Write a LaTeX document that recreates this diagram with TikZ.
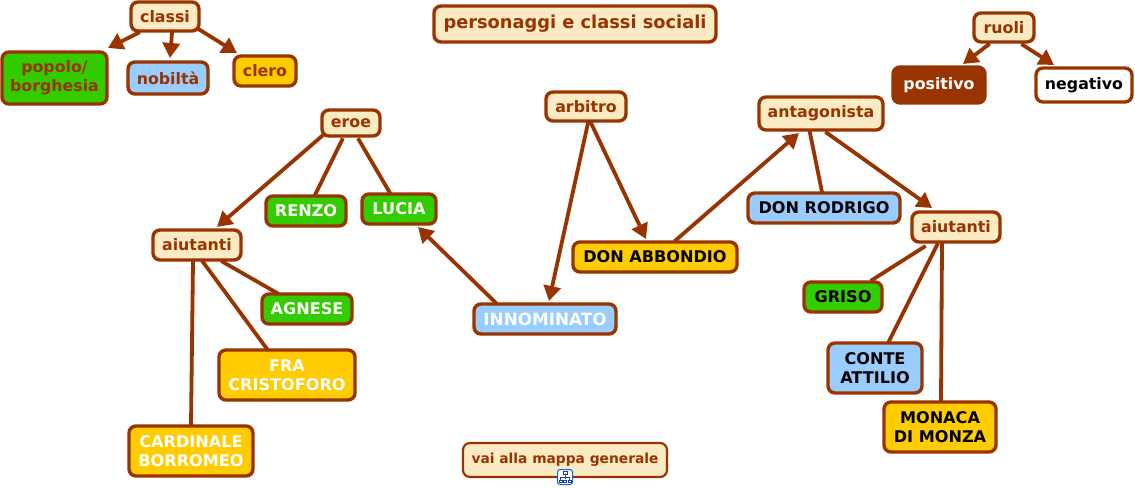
\documentclass[tikz,border=0pt]{standalone}
\usepackage{fontspec}
\setmainfont{DejaVu Sans}
\usetikzlibrary{arrows.meta}
\definecolor{brn}{HTML}{993300}
\definecolor{crm}{HTML}{FBEBC4}
\definecolor{grn}{HTML}{33CC00}
\definecolor{blu}{HTML}{99CCFF}
\definecolor{ylw}{HTML}{FFCC00}
\definecolor{icn}{HTML}{1F3F9F}
\tikzset{
 bx/.style={draw=brn,line width=3.4pt,rounded corners=7pt,align=center,inner sep=0pt,font=\bfseries\fontsize{15.8}{19.3}\selectfont},
 cream/.style={bx,fill=crm,text=brn},
 green/.style={bx,fill=grn,text=white},
 blue/.style={bx,fill=blu,text=black},
 yellow/.style={bx,fill=ylw,text=black},
 up/.style={font=\bfseries\fontsize{16.1}{19.3}\selectfont},
 link/.style={draw=brn,line width=3.8pt,shorten <=-2pt,shorten >=-1.5pt},
 arr/.style={link,shorten >=0pt,-{Triangle[length=15pt,width=17pt]}},
}
\newcommand{\bxn}[7]{\node[#1,minimum width=#4pt-2pt,minimum height=#5pt-2pt,#7] (#2) at (#3) {#6};}
\newcommand{\lnk}[5]{\draw[#1] ([shift={(#3)}]#2.center) -- ([shift={(#5)}]#4.center);}
\begin{document}
\begin{tikzpicture}[x=1pt,y=-1pt]
\useasboundingbox (0,0) rectangle (1135,488);
\bxn{cream}{classi}{165,16.5}{70}{31}{classi}{}
\bxn{green}{popolo}{54.5,78}{107}{54}{popolo/\\borghesia}{text=brn}
\bxn{blue}{nobilta}{168,78}{82}{34}{nobiltà}{text=brn}
\bxn{yellow}{clero}{265,71}{64}{32}{clero}{text=brn}
\bxn{cream}{title}{575,24}{284}{38}{personaggi e classi sociali}{font=\bfseries\fontsize{17.8}{21}\selectfont}
\bxn{cream}{ruoli}{1004,27.5}{62}{31}{ruoli}{}
\bxn{bx}{positivo}{939,85}{94}{38}{positivo}{fill=brn,text=white}
\bxn{bx}{negativo}{1084,85}{98}{36}{negativo}{fill=white,text=black}
\bxn{cream}{eroe}{351,123}{60}{28}{eroe}{}
\bxn{cream}{arbitro}{586,106.5}{82}{31}{arbitro}{}
\bxn{cream}{antagonista}{821,113.5}{126}{35}{antagonista}{}
\bxn{green}{renzo}{306,211}{82}{32}{RENZO}{up}
\bxn{green}{lucia}{399,209}{76}{32}{LUCIA}{up}
\bxn{cream}{aiutl}{197,245}{90}{32}{aiutanti}{}
\bxn{green}{agnese}{307,309}{92}{32}{AGNESE}{up}
\bxn{yellow}{fra}{287,375}{138}{52}{FRA\\CRISTOFORO}{text=white,up}
\bxn{yellow}{card}{191,451}{126}{52}{CARDINALE\\BORROMEO}{text=white,up}
\bxn{yellow}{abb}{655,257}{166}{32}{DON ABBONDIO}{up}
\bxn{blue}{inn}{545,319}{144}{32}{INNOMINATO}{text=white,font=\bfseries\fontsize{16.8}{19.3}\selectfont}
\bxn{blue}{rod}{824,208}{154}{32}{DON RODRIGO}{up}
\bxn{cream}{aiutr}{956,227}{90}{32}{aiutanti}{}
\bxn{green}{griso}{843,297}{80}{32}{GRISO}{text=black,up}
\bxn{blue}{conte}{875,368}{96}{52}{CONTE\\ATTILIO}{up}
\bxn{yellow}{monaca}{940,427}{114}{52}{MONACA\\DI MONZA}{up}
\node[bx,fill=crm,text=brn,line width=2.2pt,minimum width=204pt,minimum height=34pt,font=\bfseries\fontsize{13.8}{16}\selectfont] (vai) at (565,460) {\raisebox{3pt}{vai alla mappa generale}};
% icon
\node[draw=blue!60!cyan,fill=white,line width=1pt,rounded corners=2.5pt,minimum size=15pt,inner sep=0pt] (icon) at (565,477) {};
\draw[icn,line width=.9pt] (563,471.5) rectangle (567,474.5) (565,474.5)--(565,479) (560.5,480)--(560.5,477)--(569.5,477)--(569.5,480) (559,480) rectangle (562,482.5) (563.5,480) rectangle (566.5,482.5) (568,480) rectangle (571,482.5);
% links
\lnk{arr}{classi}{-27,16.5}{popolo}{53.5,-30}
\lnk{arr}{classi}{7,16.5}{nobilta}{2,-20}
\lnk{arr}{classi}{35,13.5}{clero}{-28,-18}
\lnk{arr}{ruoli}{-16,17.5}{positivo}{24,-21}
\lnk{arr}{ruoli}{19,17.5}{negativo}{-30,-20}
\lnk{arr}{eroe}{-29,13}{aiutl}{20,-18}
\lnk{link}{eroe}{-9,17}{renzo}{9,-16}
\lnk{link}{eroe}{8,17}{lucia}{-9,-16}
\lnk{link}{aiutl}{26,17}{agnese}{-30,-16}
\lnk{link}{aiutl}{6,17}{fra}{-20,-26}
\lnk{link}{aiutl}{-4,17}{card}{0,-26}
\lnk{arr}{inn}{-50,-17}{lucia}{19,18}
\lnk{arr}{arbitro}{2,16.5}{inn}{4,-18}
\lnk{arr}{arbitro}{5,16.5}{abb}{-9,-18}
\lnk{arr}{abb}{21,-17}{antagonista}{-22,19.5}
\lnk{link}{antagonista}{-11,19.5}{rod}{-2,-16}
\lnk{arr}{antagonista}{6,19.5}{aiutr}{-24,-19}
\lnk{link}{aiutr}{-32,20}{griso}{29,-17}
\lnk{link}{aiutr}{-19,18}{conte}{14,-27}
\lnk{link}{aiutr}{-14,18}{monaca}{1,-27}
\end{tikzpicture}
\end{document}
